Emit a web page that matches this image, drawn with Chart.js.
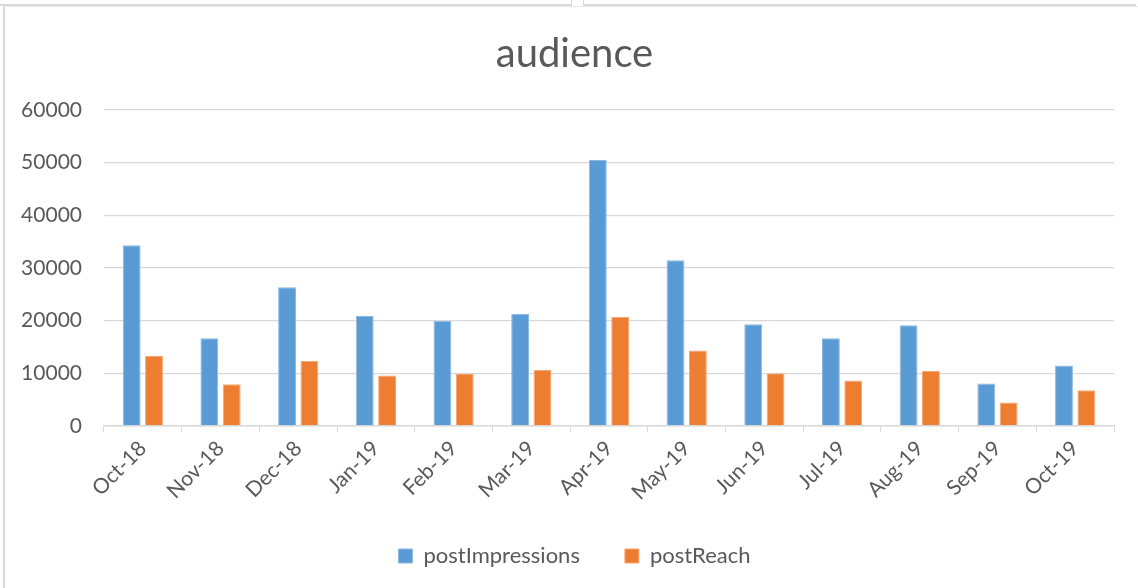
<!DOCTYPE html>
<html>
<head>
<meta charset="utf-8">
<script src="https://cdn.jsdelivr.net/npm/chart.js@4.4.0/dist/chart.umd.min.js"></script>
<style>
  html, body { margin: 0; padding: 0; background: #ffffff; }
  #wrap { position: relative; width: 1138px; height: 588px; overflow: hidden; }
  #chart { position: absolute; left: 0; top: 0; }
  .ln { position: absolute; background: #d9d9d9; }
</style>
</head>
<body>
<div id="wrap">
  <canvas id="chart" width="1138" height="588"></canvas>
  <div class="ln" style="left:0;top:4px;width:572px;height:2px;"></div>
  <div class="ln" style="left:571px;top:0;width:1px;height:5px;"></div>
  <div class="ln" style="left:583px;top:0;width:1px;height:5px;"></div>
  <div class="ln" style="left:583px;top:4px;width:553px;height:2px;"></div>
  <div class="ln" style="left:3px;top:6px;width:2px;height:582px;"></div>
  <div class="ln" style="left:3px;top:6px;width:1135px;height:1px;background:#e6e6e6;"></div>
</div>
<script>
const categories = ["Oct-18","Nov-18","Dec-18","Jan-19","Feb-19","Mar-19","Apr-19","May-19","Jun-19","Jul-19","Aug-19","Sep-19","Oct-19"];
const postImpressions = [34340, 16640, 26340, 20880, 19930, 21320, 50520, 31480, 19300, 16640, 19110, 8070, 11500];
const postReach = [13270, 7940, 12320, 9590, 9970, 10660, 20690, 14350, 10030, 8640, 10470, 4450, 6800];
const yTicks = [0, 10000, 20000, 30000, 40000, 50000, 60000];

const textColor = '#595959';
const gridColor = '#d9d9d9';
const fontFamily = 'Lato, "Open Sans", sans-serif';

const PAD_LEFT = 35, PLOT_LEFT = 104, PLOT_RIGHT = 1114, PLOT_BOTTOM = 426;
const TITLE_SIZE = 40;

const legendPatch = {
  id: 'legendPatch',
  beforeLayout(chart) {
    const lg = chart.legend;
    if (lg && !lg._patched) {
      const f = lg.fit.bind(lg);
      lg.fit = function () { f(); this.height = 588 - 11 - 500; };
      lg._patched = true;
    }
  }
};

new Chart(document.getElementById('chart'), {
  type: 'bar',
  data: {
    labels: categories,
    datasets: [
      { label: 'postImpressions', data: postImpressions, backgroundColor: '#5B9BD5', borderColor: '#8cb9e2', borderWidth: 1, categoryPercentage: 0.575, barPercentage: 0.8 },
      { label: 'postReach', data: postReach, backgroundColor: '#ED7D31', borderColor: '#f4a673', borderWidth: 1, categoryPercentage: 0.575, barPercentage: 0.8 }
    ]
  },
  plugins: [legendPatch],
  options: {
    responsive: false,
    animation: false,
    devicePixelRatio: 1,
    layout: { padding: { left: PAD_LEFT, right: 1138 - PLOT_RIGHT, top: 0, bottom: 11 } },
    plugins: {
      title: {
        display: true,
        text: 'audience',
        color: textColor,
        font: { family: fontFamily, size: TITLE_SIZE, weight: 'normal' },
        padding: { top: 30, bottom: 110 - 30 - TITLE_SIZE * 1.2 }
      },
      legend: {
        position: 'bottom',
        labels: {
          color: textColor,
          font: { family: fontFamily, size: 22 },
          boxWidth: 14,
          boxHeight: 14,
          padding: 45
        }
      },
      tooltip: { enabled: false }
    },
    scales: {
      x: {
        grid: { display: true, drawOnChartArea: false, drawTicks: true, tickLength: 6, color: gridColor, offset: true },
        border: { display: true, color: gridColor, width: 1.5 },
        ticks: { color: textColor, font: { family: fontFamily, size: 21 }, minRotation: 45, maxRotation: 45, padding: 4, autoSkip: false },
        afterFit(scale) { scale.height = 500 - PLOT_BOTTOM; }
      },
      y: {
        min: 0, max: 60000,
        afterBuildTicks(scale) { scale.ticks = yTicks.map(v => ({ value: v })); },
        grid: { color: gridColor, lineWidth: 1.3, drawTicks: false },
        border: { display: false },
        ticks: { color: textColor, font: { family: fontFamily, size: 21 }, padding: 22, callback: (v) => String(v) },
        afterFit(scale) {
          scale.width = PLOT_LEFT - PAD_LEFT;
          scale._computeLabelArea = () => undefined;
        }
      }
    }
  }
});
</script>
</body>
</html>
